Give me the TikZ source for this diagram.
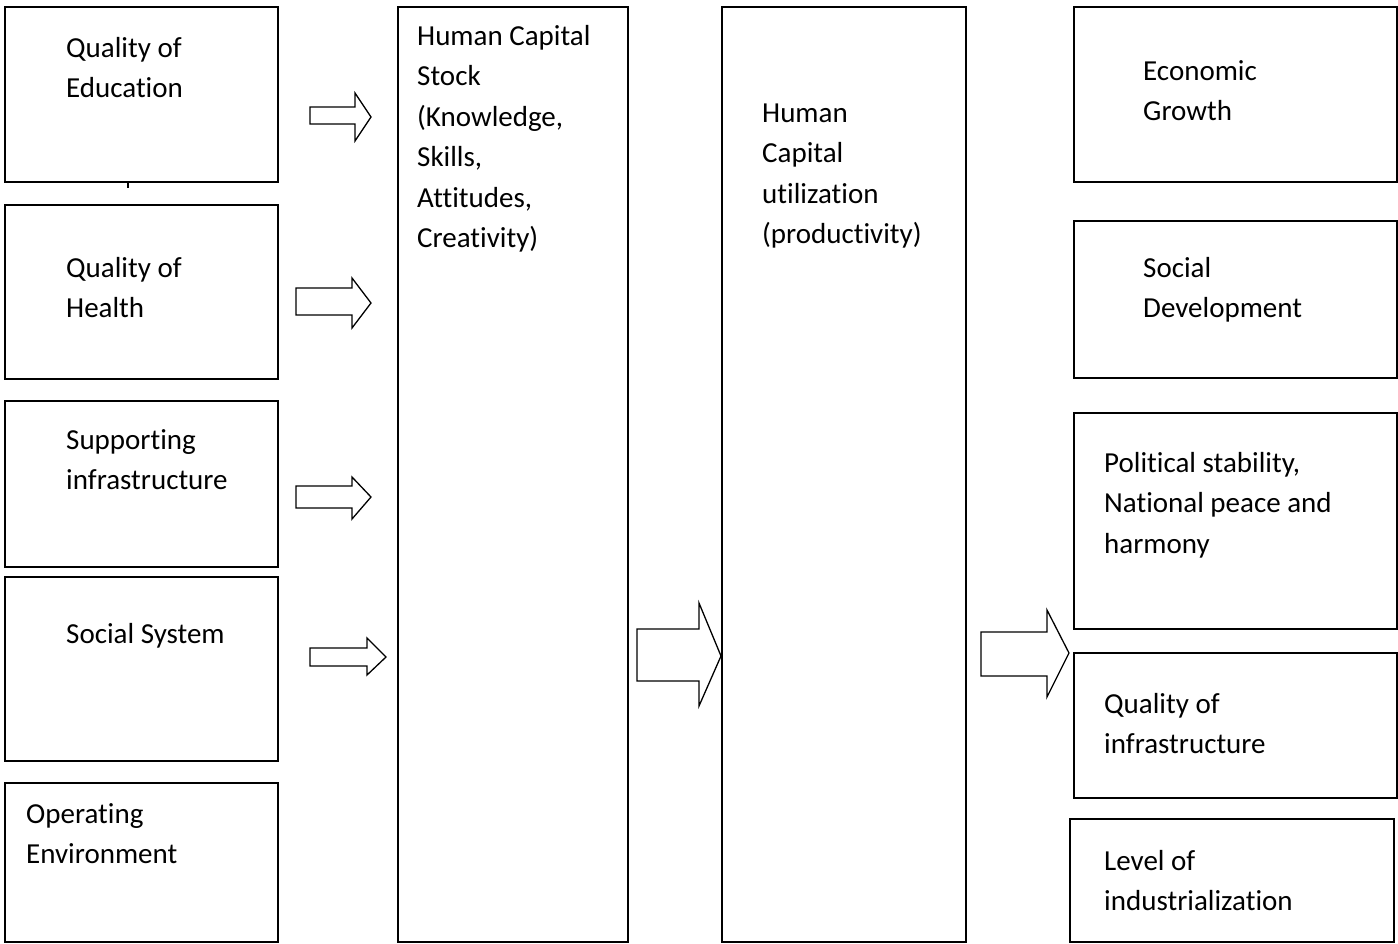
\documentclass[tikz,border=0pt]{standalone}
\usepackage{fontspec}
\setmainfont{Carlito}[Ligatures={NoCommon,NoRare,NoContextual}]
\newcommand{\boxtext}[1]{\parbox[t]{330pt}{\raggedright\fontsize{29}{40.5}\selectfont #1}}
\begin{document}
\begin{tikzpicture}[x=1pt,y=-1pt,
  box/.style={draw, line width=1.5pt, anchor=north west, inner sep=0pt},
  lbl/.style={anchor=base west, inner sep=0pt},
  blk/.style={draw, fill=white, line width=1.3pt, line join=miter}]
\useasboundingbox (0,0) rectangle (1398,943);
% left column
\node[box, minimum width=273pt, minimum height=175pt] (qe) at (4,6) {};
\node[box, minimum width=273pt, minimum height=174pt] (qh) at (4,204) {};
\node[box, minimum width=273pt, minimum height=166pt] (si) at (4,400) {};
\node[box, minimum width=273pt, minimum height=184pt] (ss) at (4,576) {};
\node[box, minimum width=273pt, minimum height=159pt] (oe) at (4,782) {};
% middle columns
\node[box, minimum width=230pt, minimum height=935pt] (hcs) at (397,6) {};
\node[box, minimum width=244pt, minimum height=935pt] (hcu) at (721,6) {};
% right column
\node[box, minimum width=323pt, minimum height=175pt] (eg) at (1073,6) {};
\node[box, minimum width=323pt, minimum height=157pt] (sd) at (1073,220) {};
\node[box, minimum width=323pt, minimum height=216pt] (ps) at (1073,412) {};
\node[box, minimum width=323pt, minimum height=145pt] (qi) at (1073,652) {};
\node[box, minimum width=324pt, minimum height=123pt] (li) at (1069,818) {};
% stray mark
\draw[line width=1.5pt] (128,181) -- (128,188);
% labels
\node[lbl] (tqe) at (66,57) {\boxtext{Quality of\\Education}};
\node[lbl] (tqh) at (66,277) {\boxtext{Quality of\\Health}};
\node[lbl] (tsi) at (66,449) {\boxtext{Supporting\\infrastructure}};
\node[lbl] (tss) at (66,643) {\boxtext{Social System}};
\node[lbl] (toe) at (26,823) {\boxtext{Operating\\Environment}};
\node[lbl] (thcs) at (417,45) {\boxtext{Human Capital\\Stock\\(Knowledge,\\Skills,\\Attitudes,\\Creativity)}};
\node[lbl] (thcu) at (762,122) {\boxtext{Human\\Capital\\utilization\\(productivity)}};
\node[lbl] (teg) at (1143,80) {\boxtext{Economic\\Growth}};
\node[lbl] (tsd) at (1143,277) {\boxtext{Social\\Development}};
\node[lbl] (tps) at (1104,472) {\boxtext{Political stability,\\National peace and\\harmony}};
\node[lbl] (tqi) at (1104,713) {\boxtext{Quality of\\infrastructure}};
\node[lbl] (tli) at (1104,870) {\boxtext{Level of\\industrialization}};
% block arrows
\draw[blk] (310,107) -- (355,107) -- (355,93) -- (371,117) -- (355,141) -- (355,124) -- (310,124) -- cycle;
\draw[blk] (296,288) -- (352,288) -- (352,278) -- (371,303) -- (352,328) -- (352,315) -- (296,315) -- cycle;
\draw[blk] (296,486) -- (352,486) -- (352,477) -- (371,497) -- (352,519) -- (352,508) -- (296,508) -- cycle;
\draw[blk] (310,648) -- (367,648) -- (367,638) -- (386,657) -- (367,675) -- (367,666) -- (310,666) -- cycle;
\draw[blk] (637,629) -- (699,629) -- (699,603) -- (721,656) -- (699,706) -- (699,681) -- (637,681) -- cycle;
\draw[blk] (981,632) -- (1047,632) -- (1047,610) -- (1069,653) -- (1047,697) -- (1047,676) -- (981,676) -- cycle;
\end{tikzpicture}
\end{document}
